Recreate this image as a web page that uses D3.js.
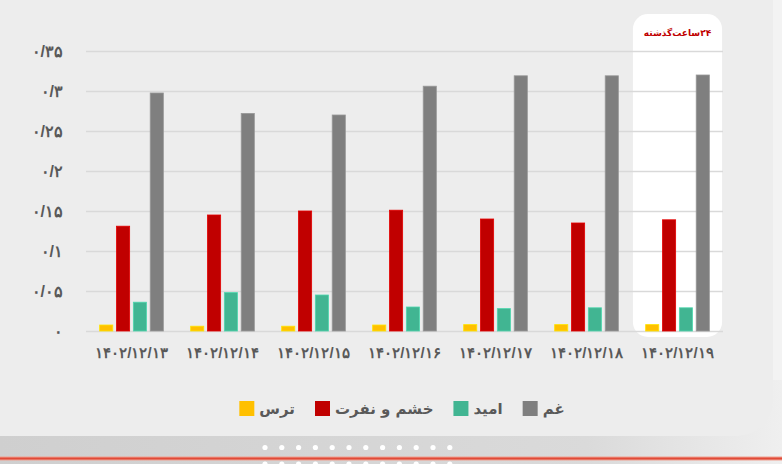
<!DOCTYPE html>
<html>
<head>
<meta charset="utf-8">
<script src="https://cdn.jsdelivr.net/npm/d3@7"></script>
<style>
  html, body { margin: 0; padding: 0; background: #f3f3f3; }
  svg { display: block; font-family: "DejaVu Sans", "Noto Sans", sans-serif; font-weight: bold; }
  .num { direction: ltr; unicode-bidi: bidi-override; }
</style>
</head>
<body>
<div id="chart"></div>
<script>
// Data
const categories = ["۱۴۰۲/۱۲/۱۳", "۱۴۰۲/۱۲/۱۴", "۱۴۰۲/۱۲/۱۵", "۱۴۰۲/۱۲/۱۶", "۱۴۰۲/۱۲/۱۷", "۱۴۰۲/۱۲/۱۸", "۱۴۰۲/۱۲/۱۹"];
const seriesNames = ["ترس", "خشم و نفرت", "امید", "غم"];
const fear    = [0.0075, 0.006, 0.006, 0.0075, 0.008, 0.008, 0.008];
const anger   = [0.131, 0.145, 0.150, 0.151, 0.140, 0.135, 0.139];
const hope    = [0.036, 0.048, 0.045, 0.030, 0.028, 0.029, 0.029];
const sadness = [0.2975, 0.272, 0.270, 0.306, 0.319, 0.319, 0.320];
const yTickValues = [0, 0.05, 0.1, 0.15, 0.2, 0.25, 0.3, 0.35];
const yTickLabels = ["۰", "۰/۰۵", "۰/۱", "۰/۱۵", "۰/۲", "۰/۲۵", "۰/۳", "۰/۳۵"];
const highlightLabel = "۲۴ساعت‌گذشته";

const colors = ["#ffc000", "#c00000", "#41b592", "#7f7f7f"];
const seriesValues = [fear, anger, hope, sadness];

const width = 782, height = 464;
const margin = { top: 51, right: 59, bottom: 133, left: 86 };
const innerWidth = width - margin.left - margin.right;
const innerHeight = height - margin.top - margin.bottom;

const svg = d3.select("#chart").append("svg")
  .attr("width", width)
  .attr("height", height);

// Background panel and footer
const defs = svg.append("defs");
const footGrad = defs.append("linearGradient").attr("id", "foot");
footGrad.append("stop").attr("offset", "0%").attr("stop-color", "#cfcfcf");
footGrad.append("stop").attr("offset", "75%").attr("stop-color", "#dadada");
footGrad.append("stop").attr("offset", "100%").attr("stop-color", "#efefef");

svg.append("rect").attr("x", 0).attr("y", 0).attr("width", width).attr("height", height).attr("fill", "#f3f3f3");
svg.append("rect").attr("x", 0).attr("y", 380).attr("width", width).attr("height", 84).attr("fill", "url(#foot)");
svg.append("rect")
  .attr("x", -40).attr("y", -40)
  .attr("width", 813).attr("height", 476)
  .attr("rx", 36)
  .attr("fill", "#ededed");

// footer dots and red line
const dotX = d3.range(12).map(i => 265 + i * 16.8);
[447.5, 464].forEach(cy => {
  svg.append("g").selectAll("circle").data(dotX).enter().append("circle")
    .attr("cx", d => d).attr("cy", cy).attr("r", 2.6).attr("fill", "#ffffff");
});
svg.append("rect").attr("x", 0).attr("y", 456.5).attr("width", width).attr("height", 4).attr("fill", "#f0a090");
svg.append("rect").attr("x", 0).attr("y", 457.5).attr("width", width).attr("height", 2).attr("fill", "#e04a38");

const g = svg.append("g").attr("transform", `translate(${margin.left},${margin.top})`);

const x0 = d3.scaleBand()
  .domain(categories)
  .range([0, innerWidth])
  .paddingInner(0.3)
  .paddingOuter(0.15);

const x1 = d3.scaleBand()
  .domain(seriesNames)
  .range([0, x0.bandwidth()])
  .paddingInner(0.22);

const y = d3.scaleLinear()
  .domain([0, 0.35])
  .range([innerHeight, 0]);

// Highlight box behind the last group
const last = categories[categories.length - 1];
const padBox = x0.step() * 0.14;
g.append("rect")
  .attr("x", x0(last) - padBox)
  .attr("y", y(0.35) - 37)
  .attr("width", x0.bandwidth() + padBox * 2)
  .attr("height", innerHeight + 43)
  .attr("rx", 15)
  .attr("fill", "#ffffff");
g.append("text")
  .attr("x", x0(last) + x0.bandwidth() / 2)
  .attr("y", y(0.35) - 15)
  .attr("text-anchor", "middle")
  .attr("direction", "rtl")
  .attr("fill", "#c00000")
  .style("font-size", "9px")
  .text(highlightLabel);

// Y axis with gridlines
const yAxis = d3.axisLeft(y)
  .tickValues(yTickValues)
  .tickFormat((d, i) => yTickLabels[i])
  .tickSize(-innerWidth)
  .tickPadding(23);
const yg = g.append("g").attr("class", "y axis").call(yAxis);
yg.select(".domain").remove();
yg.selectAll(".tick line").attr("stroke", "#d9d9d9").attr("stroke-width", 1.5);
yg.selectAll(".tick text")
  .attr("class", "num")
  .attr("fill", "#595959")
  .style("font-size", "16px")
  .style("font-weight", "bold");

// X axis labels
const xAxis = d3.axisBottom(x0).tickSize(0).tickPadding(16);
const xg = g.append("g").attr("class", "x axis")
  .attr("transform", `translate(0,${innerHeight})`)
  .call(xAxis);
xg.select(".domain").remove();
xg.selectAll(".tick text")
  .attr("class", "num")
  .attr("fill", "#595959")
  .style("font-size", "15px")
  .style("font-weight", "bold");

// Bars
const rows = categories.map((c, i) => ({
  cat: c,
  values: seriesNames.map((s, j) => ({ key: s, value: seriesValues[j][i], color: colors[j] }))
}));

g.selectAll(".group")
  .data(rows)
  .enter()
  .append("g")
  .attr("class", "group")
  .attr("transform", d => `translate(${x0(d.cat)},0)`)
  .selectAll("rect")
  .data(d => d.values)
  .enter()
  .append("rect")
  .attr("x", d => x1(d.key))
  .attr("y", d => y(d.value))
  .attr("width", x1.bandwidth())
  .attr("height", d => innerHeight - y(d.value))
  .attr("fill", d => d.color)
  .attr("stroke", d => d3.color(d.color).brighter(0.5))
  .attr("stroke-width", 0.8);

// Legend (right to left order: غم, امید, خشم و نفرت, ترس)
const legend = svg.append("g").attr("class", "legend");
const items = legend.selectAll(".item")
  .data(seriesNames.map((s, j) => ({ name: s, color: colors[j] })))
  .enter()
  .append("g")
  .attr("class", "item");
items.append("rect")
  .attr("width", 15).attr("height", 15)
  .attr("y", 401)
  .attr("fill", d => d.color);
items.append("text")
  .attr("y", 414)
  .attr("fill", "#595959")
  .style("font-size", "15px")
  .text(d => d.name);

let widths = [];
items.select("text").each(function() { widths.push(this.getComputedTextLength()); });
const total = d3.sum(widths) + widths.length * 20 + (widths.length - 1) * 20;
let cursor = 402 - total / 2;
items.each(function(d, i) {
  const it = d3.select(this);
  it.select("rect").attr("x", cursor);
  it.select("text").attr("x", cursor + 20);
  cursor += 20 + widths[i] + 20;
});
</script>
</body>
</html>
